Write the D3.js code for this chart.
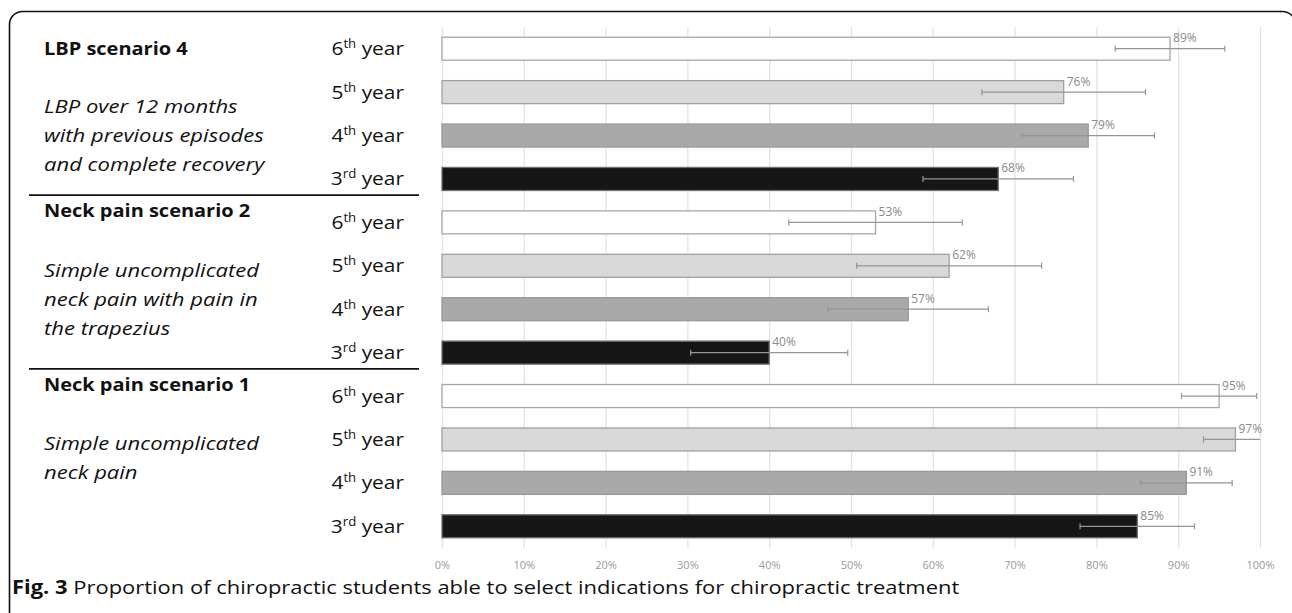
<!DOCTYPE html>
<html>
<head>
<meta charset="utf-8">
<script src="https://cdn.jsdelivr.net/npm/d3@7"></script>
<style>
  body { margin: 0; background: #fff; }
  svg { display: block; font-family: "Open Sans", sans-serif; }
</style>
</head>
<body>
<svg id="chart" width="1292" height="613"></svg>
<script>
// Data
var scenarios = ["LBP scenario 4", "Neck pain scenario 2", "Neck pain scenario 1"];
var descriptions = [
    ["LBP over 12 months", "with previous episodes", "and complete recovery"],
    ["Simple uncomplicated", "neck pain with pain in", "the trapezius"],
    ["Simple uncomplicated", "neck pain"]
];
var years = ["6", "5", "4", "3"];
var yearSuffixes = ["th", "th", "th", "rd"];

var lbp4Values = [89, 76, 79, 68];
var lbp4Errors = [6.7, 10, 8.1, 9.2];
var neck2Values = [53, 62, 57, 40];
var neck2Errors = [10.6, 11.3, 9.8, 9.6];
var neck1Values = [95, 97, 91, 85];
var neck1Errors = [4.6, 3.9, 5.6, 7];

var xTicks = [0, 10, 20, 30, 40, 50, 60, 70, 80, 90, 100];

var yearFills = ["#ffffff", "#d9d9d9", "#a9a9a9", "#161616"];
var yearStrokes = ["#a6a6a6", "#a0a0a0", "#999999", "#6e6e6e"];

// Build one row per bar
var groupValues = [lbp4Values, neck2Values, neck1Values];
var groupErrors = [lbp4Errors, neck2Errors, neck1Errors];
var rows = [];
scenarios.forEach(function(s, g) {
    years.forEach(function(y, i) {
        rows.push({
            key: g + "-" + i,
            group: g,
            year: i,
            value: groupValues[g][i],
            error: groupErrors[g][i]
        });
    });
});

var svg = d3.select("#chart");

// the source figure's lettering is a bit wider than Open Sans
var textStretch = 1.155;
function placeText(sel, x, y, sx) {
    sel.attr("transform", "translate(" + x + "," + y + ") scale(" + sx + ",1)");
    return sel;
}

// Frame around the figure
svg.append("rect")
    .attr("x", 9.5)
    .attr("y", 11.5)
    .attr("width", 1286)
    .attr("height", 700)
    .attr("rx", 13)
    .attr("fill", "none")
    .attr("stroke", "#111")
    .attr("stroke-width", 1.6);

var plotTop = 27, plotBottom = 548;

var xScale = d3.scaleLinear()
    .domain([0, 100])
    .range([442, 1260]);

var yScale = d3.scaleBand()
    .domain(rows.map(function(d) { return d.key; }))
    .range([plotTop, plotBottom])
    .paddingInner(0.47)
    .paddingOuter(0.235);

var step = yScale.step();

// Gridlines
var grid = svg.append("g")
    .attr("transform", "translate(0," + plotBottom + ")")
    .call(d3.axisBottom(xScale)
        .tickValues(xTicks)
        .tickSize(-(plotBottom - plotTop))
        .tickFormat(""));
grid.select(".domain").remove();
grid.selectAll("line").attr("stroke", "#e2e2e2").attr("stroke-width", 1.2);

// Tick labels
var xAxis = svg.append("g")
    .attr("transform", "translate(0," + plotBottom + ")")
    .call(d3.axisBottom(xScale)
        .tickValues(xTicks)
        .tickSize(0)
        .tickPadding(13)
        .tickFormat(function(d) { return d + "%"; }));
xAxis.select(".domain").remove();
xAxis.selectAll("text")
    .attr("fill", "#9a9a9a")
    .style("font-family", "'Open Sans', sans-serif")
    .style("font-size", "11px");

// Bars
svg.selectAll("rect.bar")
    .data(rows)
    .enter()
    .append("rect")
    .attr("class", "bar")
    .attr("x", xScale(0))
    .attr("y", function(d) { return yScale(d.key); })
    .attr("width", function(d) { return xScale(d.value) - xScale(0); })
    .attr("height", yScale.bandwidth())
    .attr("fill", function(d) { return yearFills[d.year]; })
    .attr("stroke", function(d) { return yearStrokes[d.year]; })
    .attr("stroke-width", 1.3);

// Error bars
var err = svg.selectAll("g.err")
    .data(rows)
    .enter()
    .append("g")
    .attr("class", "err")
    .attr("stroke", "#959595")
    .attr("stroke-width", 1.2);

err.append("line")
    .attr("x1", function(d) { return xScale(d.value - d.error); })
    .attr("x2", function(d) { return xScale(Math.min(100, d.value + d.error)); })
    .attr("y1", function(d) { return yScale(d.key) + yScale.bandwidth() / 2; })
    .attr("y2", function(d) { return yScale(d.key) + yScale.bandwidth() / 2; });

err.append("line")
    .attr("x1", function(d) { return xScale(d.value - d.error); })
    .attr("x2", function(d) { return xScale(d.value - d.error); })
    .attr("y1", function(d) { return yScale(d.key) + yScale.bandwidth() / 2 - 3; })
    .attr("y2", function(d) { return yScale(d.key) + yScale.bandwidth() / 2 + 3; });

err.filter(function(d) { return d.value + d.error <= 100; })
    .append("line")
    .attr("x1", function(d) { return xScale(d.value + d.error); })
    .attr("x2", function(d) { return xScale(d.value + d.error); })
    .attr("y1", function(d) { return yScale(d.key) + yScale.bandwidth() / 2 - 3; })
    .attr("y2", function(d) { return yScale(d.key) + yScale.bandwidth() / 2 + 3; });

// Value labels
svg.selectAll("text.val")
    .data(rows)
    .enter()
    .append("text")
    .attr("class", "val")
    .attr("x", function(d) { return xScale(d.value) + 3; })
    .attr("y", function(d) { return yScale(d.key) + 5; })
    .attr("fill", "#8a8a8a")
    .style("font-size", "12px")
    .text(function(d) { return d.value + "%"; });

// Year labels with superscript
var yearLabels = svg.selectAll("text.year")
    .data(rows)
    .enter()
    .append("text")
    .attr("class", "year")
    .attr("transform", function(d) {
        return "translate(404," + (yScale(d.key) + yScale.bandwidth() / 2 + 6.5) + ") scale(1.1,1)";
    })
    .attr("text-anchor", "end")
    .attr("fill", "#111")
    .style("font-size", "19px");
yearLabels.append("tspan").text(function(d) { return years[d.year]; });
yearLabels.append("tspan")
    .attr("dy", -7)
    .style("font-size", "12px")
    .text(function(d) { return yearSuffixes[d.year]; });
yearLabels.append("tspan")
    .attr("dy", 7)
    .text(" year");

// Scenario headings, descriptions and separators
scenarios.forEach(function(s, g) {
    var groupStart = plotTop + g * 4 * step;
    var headY = g === 0 ? groupStart + 28 : groupStart + 16.5;
    svg.append("text")
        .call(placeText, 44, headY, 1.11)
        .attr("fill", "#111")
        .style("font-size", "18px")
        .style("font-weight", "bold")
        .text(s);

    var descStart = g === 0 ? groupStart + 86 : groupStart + 76;
    descriptions[g].forEach(function(line, j) {
        svg.append("text")
            .call(placeText, 44, descStart + j * 29, 1.16)
            .attr("fill", "#111")
            .style("font-size", "19px")
            .style("font-style", "italic")
            .text(line);
    });

    if (g > 0) {
        svg.append("line")
            .attr("x1", 29)
            .attr("x2", 419)
            .attr("y1", groupStart - 5.5)
            .attr("y2", groupStart - 5.5)
            .attr("stroke", "#111")
            .attr("stroke-width", 1.6);
    }
});

// Caption
var caption = svg.append("text")
    .call(placeText, 12, 594, textStretch)
    .attr("fill", "#111")
    .style("font-size", "19px");
caption.append("tspan").style("font-weight", "bold").text("Fig. 3");
caption.append("tspan").text(" Proportion of chiropractic students able to select indications for chiropractic treatment");
</script>
</body>
</html>
